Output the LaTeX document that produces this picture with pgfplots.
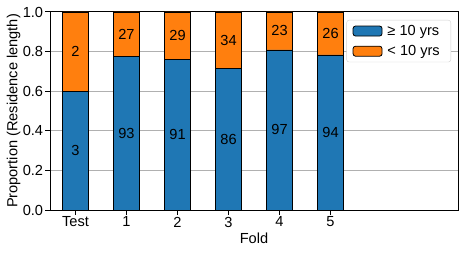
\documentclass[border=0pt]{standalone}
\usepackage{pgfplots}
\pgfplotsset{compat=1.18}
\usepackage{fontspec}
\setmainfont{Liberation Sans}
\definecolor{tabblue}{HTML}{1F77B4}
\definecolor{taborange}{HTML}{FF7F0E}
\begin{document}
\begin{tikzpicture}[font=\fontsize{14.6bp}{17bp}\selectfont]
\begin{axis}[
  scale only axis,
  width=408bp, height=198bp,
  ybar stacked,
  bar width=0.5,
  xmin=-0.5, xmax=7.5,
  ymin=0, ymax=1,
  xtick={0,1,2,3,4,5},
  xticklabels={Test,1,2,3,4,5},
  ytick={0,0.2,0.4,0.6,0.8,1.0},
  yticklabel style={inner sep=2bp, /pgf/number format/.cd,fixed,fixed zerofill,precision=1},
  /pgf/number format/assume math mode=true,
  tick align=outside,
  tick pos=left,
  major tick length=4.7bp,
  tick style={black, line width=1bp},
  axis line style={line width=1bp},
  ymajorgrids,
  grid style={color=black!31, line width=1bp},
  xticklabel style={inner sep=2bp},
  xlabel={Fold},
  ylabel={Proportion (Residence length)},
  xlabel style={yshift=0bp},
  ylabel style={yshift=-3bp},
  legend style={at={(1,1)}, xshift=-7bp, yshift=-8bp, anchor=north east, draw=black!18, rounded corners=2.5bp, fill=white, inner xsep=6bp, inner ysep=3bp, row sep=4.5bp,
    nodes={inner xsep=5bp}},
  legend cell align=left,
  legend image code/.code={\draw[#1, line width=0.8bp] (0bp,-5bp) rectangle (29bp,5bp);},
]
\addplot[fill=tabblue, draw=black, line width=0.8bp] coordinates {(0,0.6) (1,0.775) (2,0.7583) (3,0.7167) (4,0.8083) (5,0.7833) (6,0) (7,0)};
\addlegendentry{≥ 10 yrs}
\addplot[fill=taborange, draw=black, line width=0.8bp] coordinates {(0,0.4) (1,0.225) (2,0.2417) (3,0.2833) (4,0.1917) (5,0.2167) (6,0) (7,0)};
\addlegendentry{< 10 yrs}
\end{axis}
\begin{axis}[
  scale only axis,
  width=408bp, height=198bp,
  xmin=-0.5, xmax=7.5,
  ymin=0, ymax=1,
  hide axis,
]
\addplot[only marks, mark=none, nodes near coords, point meta=explicit symbolic,
  nodes near coords style={anchor=center, text=black}]
  table[meta=label] {
x y label
0 0.3 3
0 0.8 2
1 0.3875 93
1 0.8875 27
2 0.3792 91
2 0.8792 29
3 0.3583 86
3 0.8583 34
4 0.4042 97
4 0.9042 23
5 0.3917 94
5 0.8917 26
};
\end{axis}
\useasboundingbox (current axis.south west) ++(-50bp,-44bp) rectangle ([xshift=7bp,yshift=12bp]current axis.north east);
\end{tikzpicture}
\end{document}
